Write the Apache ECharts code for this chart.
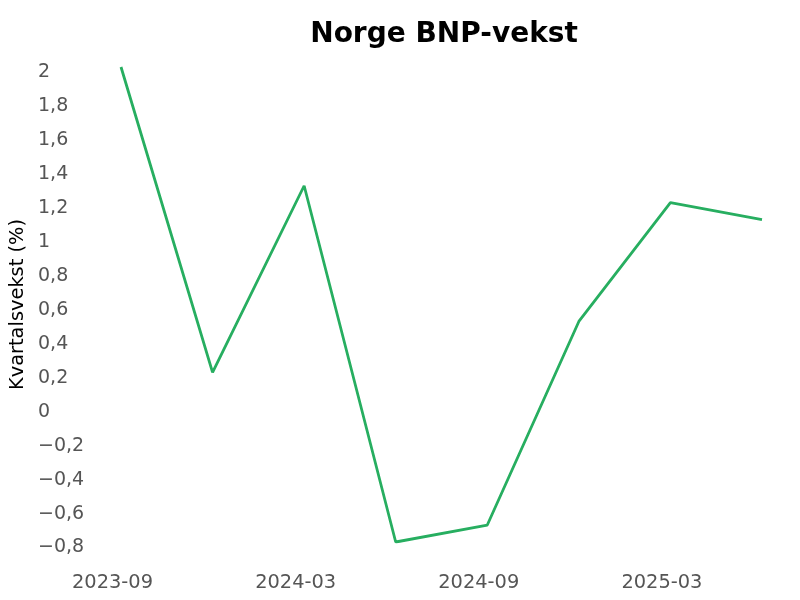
<!DOCTYPE html>
<html>
<head>
<meta charset="utf-8">
<script src="https://cdn.jsdelivr.net/npm/echarts@6/dist/echarts.min.js"></script>
<style>html,body{margin:0;padding:0;background:#fff}#c{width:800px;height:600px}</style>
</head>
<body>
<div id="c"></div>
<script>
const categories = ['2023-09','2023-12','2024-03','2024-06','2024-09','2024-12','2025-03','2025-06'];
const growth = [2.0, 0.2, 1.3, -0.8, -0.7, 0.5, 1.2, 1.1];
const yTicks = {min: -0.8, max: 2.0, interval: 0.2};

const chart = echarts.init(document.getElementById('c'), null, {renderer: 'canvas'});
chart.setOption({
  backgroundColor: '#fff',
  animation: false,
  title: {
    text: 'Norge BNP-vekst',
    left: 439, top: 16, textAlign: 'center',
    textStyle: {fontFamily: 'DejaVu Sans', fontWeight: 'bold', fontSize: 28, color: '#000'}
  },
  grid: {left: 121, right: 38, top: 67, bottom: 58, containLabel: false},
  xAxis: {
    type: 'category',
    data: categories,
    boundaryGap: false,
    axisLine: {show: false},
    axisTick: {show: false},
    splitLine: {show: false},
    axisLabel: {interval: 1, margin: 31, padding: [0, 17, 0, 0], fontFamily: 'DejaVu Sans', fontSize: 19.4, color: '#555'}
  },
  yAxis: {
    type: 'value',
    min: yTicks.min, max: yTicks.max, interval: yTicks.interval,
    name: 'Kvartalsvekst (%)',
    nameLocation: 'middle',
    nameGap: 91,
    nameTextStyle: {fontFamily: 'DejaVu Sans', fontSize: 19.4, color: '#000'},
    axisLine: {show: false},
    axisTick: {show: false},
    splitLine: {show: false},
    axisLabel: {
      align: 'left', verticalAlign: 'top', lineHeight: 11, margin: 83,
      fontFamily: 'DejaVu Sans', fontSize: 19, color: '#555',
      formatter: v => {
        const r = Math.round(v * 10) / 10;
        return (r < 0 ? '\u2212' : '') + String(Math.abs(r)).replace('.', ',');
      }
    }
  },
  series: [{
    type: 'line',
    data: growth,
    showSymbol: false,
    lineStyle: {color: '#27ae60', width: 2.8},
    itemStyle: {color: '#27ae60'}
  }]
});
</script>
</body>
</html>
